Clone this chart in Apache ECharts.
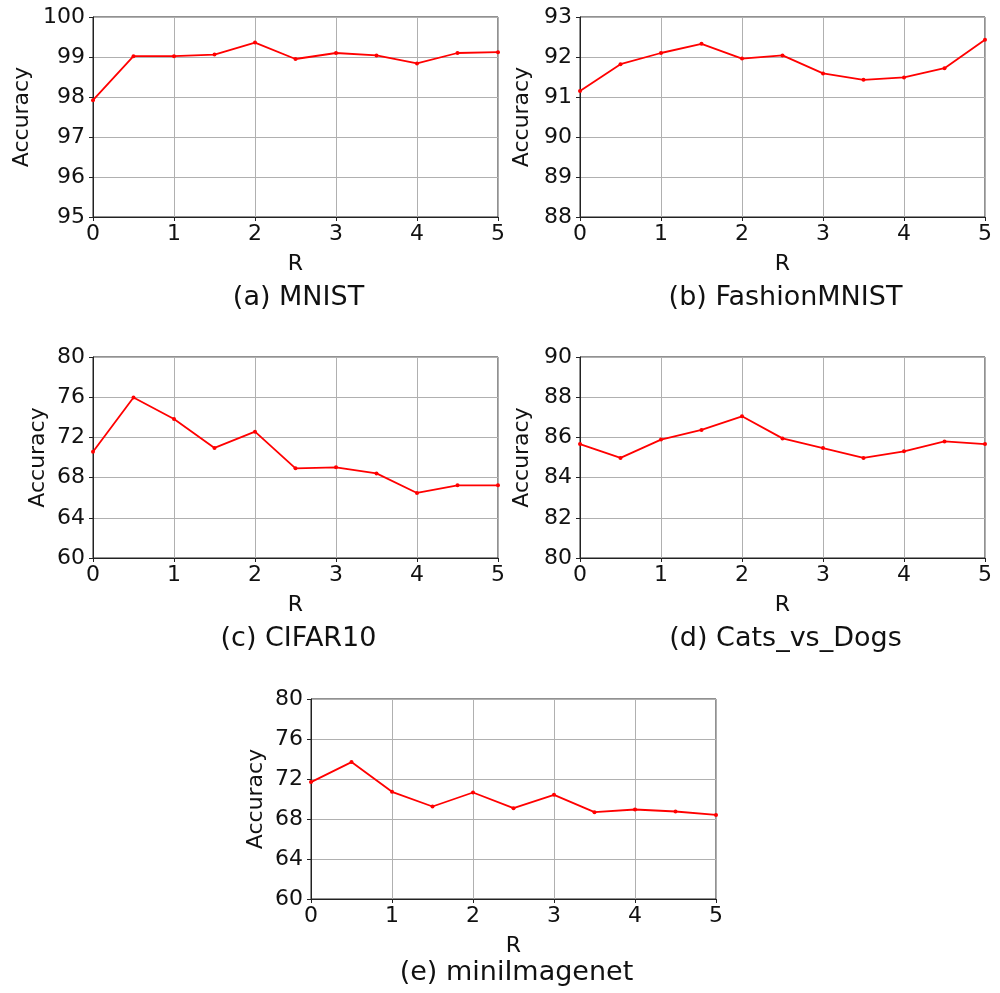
<!DOCTYPE html>
<html><head><meta charset="utf-8">
<script src="https://cdn.jsdelivr.net/npm/echarts@6/dist/echarts.min.js"></script>
<style>html,body{margin:0;padding:0;background:#fff}#c{width:1000px;height:993px}</style>
</head><body><div id="c"></div>
<script>
const rValues = [0, 0.5, 1, 1.5, 2, 2.5, 3, 3.5, 4, 4.5, 5];
const mnist = [97.92, 99.02, 99.02, 99.06, 99.36, 98.95, 99.10, 99.04, 98.84, 99.10, 99.12];
const fashion = [91.15, 91.82, 92.10, 92.33, 91.96, 92.04, 91.59, 91.43, 91.49, 91.72, 92.43];
const cifar10 = [70.58, 75.97, 73.83, 70.95, 72.57, 68.92, 69.02, 68.42, 66.47, 67.23, 67.23];
const catsDogs = [85.67, 84.98, 85.89, 86.37, 87.05, 85.95, 85.47, 84.98, 85.31, 85.80, 85.67];
const miniImagenet = [71.69, 73.69, 70.72, 69.25, 70.65, 69.08, 70.42, 68.68, 68.95, 68.75, 68.41];
const panelTitles = ['(a) MNIST', '(b) FashionMNIST', '(c) CIFAR10', '(d) Cats_vs_Dogs', '(e) miniImagenet'];
const yMins = [95, 88, 60, 80, 60];
const yMaxs = [100, 93, 80, 90, 80];
const yIntervals = [1, 1, 4, 2, 4];
const seriesList = [mnist, fashion, cifar10, catsDogs, miniImagenet];

const FONT = 'DejaVu Sans';
const grids = [
  {left: 93, top: 17, width: 405, height: 200},
  {left: 580, top: 17, width: 405, height: 200},
  {left: 93, top: 357, width: 405, height: 201},
  {left: 580, top: 357, width: 405, height: 201},
  {left: 311, top: 699, width: 405, height: 200}
];
const yNameGaps = [60, 47, 44, 47, 44];
const titleTops = [279, 279, 620, 620, 954];

const option = {
  backgroundColor: '#fff',
  animation: false,
  title: grids.map((g, i) => ({
    text: panelTitles[i],
    left: g.left + g.width / 2 - 2,
    top: titleTops[i],
    textAlign: 'center',
    textStyle: {fontFamily: FONT, fontSize: 27, fontWeight: 'normal', color: '#111'}
  })),
  grid: grids.map(g => Object.assign({show: true, borderColor: '#222', borderWidth: 1, backgroundColor: 'transparent'}, g)),
  xAxis: grids.map((g, i) => ({
    type: 'value', gridIndex: i, min: 0, max: 5, interval: 1,
    name: 'R', nameLocation: 'middle', nameGap: 36,
    nameTextStyle: {fontFamily: FONT, fontSize: 22, color: '#111'},
    axisLine: {show: true, lineStyle: {color: '#222', width: 1}},
    axisTick: {show: true, length: 4, lineStyle: {color: '#222'}},
    axisLabel: {fontFamily: FONT, fontSize: 22, color: '#111', margin: 6},
    splitLine: {show: true, lineStyle: {color: '#b0b0b0', width: 1}}
  })),
  yAxis: grids.map((g, i) => ({
    type: 'value', gridIndex: i, min: yMins[i], max: yMaxs[i], interval: yIntervals[i],
    name: 'Accuracy', nameLocation: 'middle', nameGap: yNameGaps[i], nameRotate: 90,
    nameTextStyle: {fontFamily: FONT, fontSize: 22, color: '#111'},
    axisLine: {show: true, lineStyle: {color: '#222', width: 1}},
    axisTick: {show: true, length: 4, lineStyle: {color: '#222'}},
    axisLabel: {fontFamily: FONT, fontSize: 22, color: '#111', margin: 8},
    splitLine: {show: true, lineStyle: {color: '#b0b0b0', width: 1}}
  })),
  series: seriesList.map((vals, i) => ({
    type: 'line', xAxisIndex: i, yAxisIndex: i,
    data: rValues.map((r, k) => [r, vals[k]]),
    symbol: 'circle', symbolSize: 4,
    lineStyle: {color: '#ff0000', width: 1.8},
    itemStyle: {color: '#ff0000'},
    clip: false
  }))
};
echarts.init(document.getElementById('c')).setOption(option);
</script></body></html>
